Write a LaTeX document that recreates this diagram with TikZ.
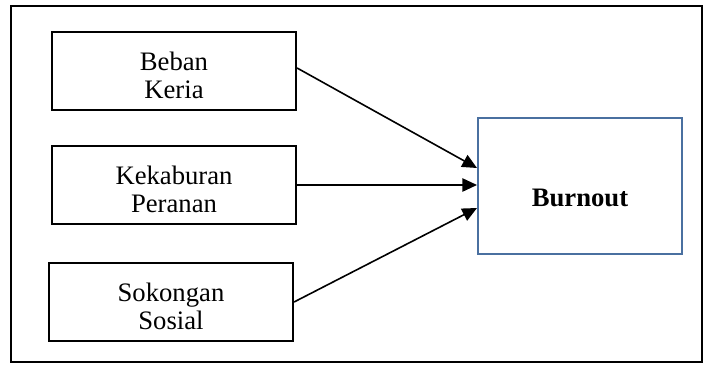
\documentclass[tikz,border=0pt]{standalone}
\usepackage{fontspec}
\setmainfont{Liberation Serif}
\usetikzlibrary{arrows.meta,calc}
\definecolor{burnblue}{RGB}{74,112,160}
\begin{document}
\begin{tikzpicture}[x=0.75pt,y=-0.75pt,
  inbox/.style={draw=black,line width=1.6pt,minimum width=183pt,minimum height=58.5pt,inner sep=0pt},
  intext/.style={align=center,inner sep=0pt,font=\fontsize{20pt}{21pt}\selectfont},
  outbox/.style={draw=burnblue,line width=1.5pt,minimum width=153pt,minimum height=102pt,inner sep=0pt},
  outtext/.style={inner sep=0pt,font=\fontsize{20pt}{21pt}\selectfont\bfseries},
  conn/.style={line width=1.2pt,-{Triangle[length=11pt,width=10pt]}}]
\useasboundingbox (0,0) rectangle (707,365);
\draw[line width=1.2pt] (11,6) rectangle (702,362);
\node[inbox] (b1) at (174,71) {};
\node[inbox] (b2) at (174,185) {};
\node[inbox] (b3) at (171,302) {};
\node[outbox] (burn) at (580,186) {};
\node[intext] (l1) at ($(b1.center)+(0,4)$) {Beban\\Keria};
\node[intext] (l2) at ($(b2.center)+(0,4)$) {Kekaburan\\Peranan};
\node[intext] (l3) at ($(b3.center)+(0,4)$) {Sokongan\\Sosial};
\node[outtext] (l4) at ($(burn.center)+(0,12)$) {Burnout};
\coordinate (t1) at ($(burn.west)+(0,-18)$);
\coordinate (t3) at ($(burn.west)+(0,22)$);
\coordinate (s1) at ($(b1.east)+(0,-3)$);
\draw[conn] (s1) -- (t1);
\draw[conn] (b2.east) -- (b2.east -| burn.west);
\draw[conn] (b3.east) -- (t3);
\end{tikzpicture}
\end{document}
